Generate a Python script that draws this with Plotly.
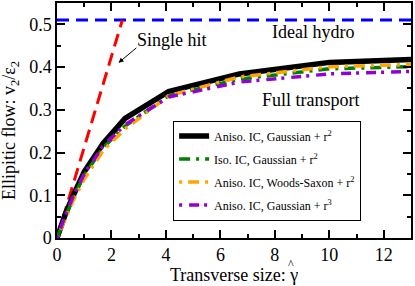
import plotly.graph_objects as go

gamma = [0, 0.3, 0.6, 1.0, 1.7, 2.5, 4.1, 6.7, 10, 13]
aniso_gauss_r2 = [0, 0.055, 0.100, 0.155, 0.222, 0.280, 0.343, 0.384, 0.411, 0.418]
iso_gauss_r2 = [0, 0.050, 0.095, 0.147, 0.212, 0.262, 0.333, 0.372, 0.396, 0.401]
aniso_ws_r2 = [0, 0.045, 0.088, 0.138, 0.205, 0.255, 0.333, 0.377, 0.401, 0.406]
aniso_gauss_r3 = [0, 0.052, 0.098, 0.150, 0.216, 0.265, 0.330, 0.365, 0.384, 0.390]

single_hit_x = [0, 2.4]
single_hit_y = [0, 0.51]
hydro_x = [0, 13]
hydro_y = [0.51, 0.51]

names = ["Aniso. IC, Gaussian + r<sup>2</sup>",
         "Iso. IC, Gaussian + r<sup>2</sup>",
         "Aniso. IC, Woods-Saxon + r<sup>2</sup>",
         "Aniso. IC, Gaussian + r<sup>3</sup>"]

font = "Liberation Serif"
fig = go.Figure()
fig.add_trace(go.Scatter(x=hydro_x, y=hydro_y, mode="lines", showlegend=False,
                         line=dict(color="#0000ff", width=3, dash="12px,7px")))
fig.add_trace(go.Scatter(x=single_hit_x, y=single_hit_y, mode="lines", showlegend=False,
                         line=dict(color="#ff0000", width=3, dash="13px,7px")))
series = [
    (aniso_gauss_r2, "#000000", 5.5, "solid"),
    (iso_gauss_r2, "#008000", 3.5, "11px,6px,3px,6px"),
    (aniso_ws_r2, "#ffa500", 3.5, "3px,6px,11px,6px"),
    (aniso_gauss_r3, "#9400d3", 3.5, "3px,7px,10px,5px"),
]
for i, (ys, c, w, d) in enumerate(series):
    fig.add_trace(go.Scatter(x=gamma, y=ys, mode="lines", name=names[i], legendgroup=f"g{i}",
                             line=dict(color=c, width=w, dash=d)))

axis_common = dict(showline=True, linecolor="black", linewidth=1.5, mirror="allticks",
                   ticks="inside", ticklen=8, tickwidth=1.5, tickcolor="black",
                   showgrid=False, zeroline=False, automargin=False,
                   tickfont=dict(family=font, size=18, color="black"))
fig.update_xaxes(range=[0, 13], dtick=2, tick0=0,
                 minor=dict(dtick=1, ticks="inside", ticklen=4, tickwidth=1.5, tickcolor="black"),
                 **axis_common)
fig.update_yaxes(range=[0, 0.55], dtick=0.1, tick0=0, tickformat="~g",
                 minor=dict(dtick=0.05, ticks="inside", ticklen=4, tickwidth=1.5, tickcolor="black"),
                 **axis_common)

# axis titles as annotations (so the hat over gamma can be placed precisely)
fig.add_annotation(x=0.4986, y=-0.157, xref="paper", yref="paper", xanchor="center", yanchor="middle",
                   showarrow=False, text="Transverse size: \u03b3",
                   font=dict(family=font, size=18, color="black"))
fig.add_annotation(x=0.662, y=-0.110, xref="paper", yref="paper", xanchor="center", yanchor="middle",
                   showarrow=False, text="^", font=dict(family=font, size=12, color="black"))
fig.add_annotation(x=-0.133, y=0.459, xref="paper", yref="paper", xanchor="center", yanchor="middle",
                   showarrow=False, textangle=-90,
                   text="Ellipitic flow: v<sub>2</sub>/\u03b5<sub>2</sub>",
                   font=dict(family=font, size=18, color="black"))

fig.add_annotation(x=9.4, y=0.481, xref="x", yref="y", showarrow=False,
                   text="Ideal hydro", font=dict(family=font, size=18, color="black"))
fig.add_annotation(x=4.22, y=0.463, xref="x", yref="y", showarrow=False,
                   text="Single hit", font=dict(family=font, size=18, color="black"))
fig.add_annotation(x=2.26, y=0.41, ax=2.97, ay=0.448, xref="x", yref="y", axref="x", ayref="y",
                   showarrow=True, arrowhead=2, arrowsize=1, arrowwidth=1, arrowcolor="black", text="")
fig.add_annotation(x=9.33, y=0.322, xref="x", yref="y", showarrow=False,
                   text="Full transport", font=dict(family=font, size=18, color="black"))

fig.update_layout(
    width=415, height=286,
    margin=dict(l=57, r=4, t=3, b=48),
    paper_bgcolor="white", plot_bgcolor="white",
    legend=dict(x=0.328, y=0.50, xanchor="left", yanchor="top",
                bordercolor="black", borderwidth=1, bgcolor="white",
                font=dict(family=font, size=12, color="black"),
                traceorder="grouped", tracegroupgap=4),
)
fig.write_html("out.html", config={"displayModeBar": False},
               post_script="document.body.style.margin='0';document.body.style.padding='0';")
